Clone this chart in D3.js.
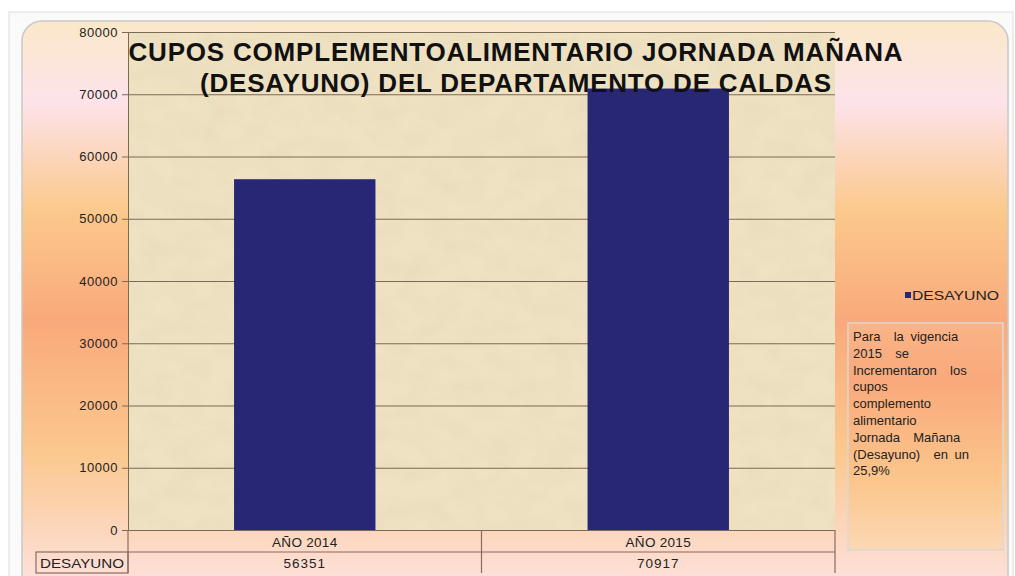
<!DOCTYPE html>
<html>
<head>
<meta charset="utf-8">
<script src="https://cdn.jsdelivr.net/npm/d3@7"></script>
<style>
  body { margin: 0; background: #fff; }
  svg { display: block; font-family: "Liberation Sans", Arial, sans-serif; }
</style>
</head>
<body>
<div id="chart"></div>
<script>
// data
var categories = ['AÑO 2014', 'AÑO 2015'];
var desayuno = [56351, 70917];
var seriesName = 'DESAYUNO';
var yTicks = [0, 10000, 20000, 30000, 40000, 50000, 60000, 70000, 80000];
var titleLines = ['CUPOS COMPLEMENTOALIMENTARIO JORNADA MAÑANA', '(DESAYUNO) DEL DEPARTAMENTO DE CALDAS'];
var noteLines = ['Para  la vigencia', '2015  se', 'Incrementaron  los', 'cupos', 'complemento',
  'alimentario', 'Jornada  Mañana', '(Desayuno)  en un', '25,9%'];

var W = 1015, H = 576;
var plot = {left: 128, right: 835, top: 32, bottom: 530};

var svg = d3.select('#chart').append('svg').attr('width', W).attr('height', H);
var defs = svg.append('defs');

// chart background gradient
var bg = defs.append('linearGradient').attr('id', 'bg').attr('x1', 0).attr('x2', 0).attr('y1', 0).attr('y2', 1);
[[0, '#fbe8c9'], [0.14, '#fde3ea'], [0.33, '#fbc98c'], [0.52, '#f9a97b'], [0.75, '#fbc88e'], [1, '#fde3e3']]
  .forEach(function(s) { bg.append('stop').attr('offset', s[0]).attr('stop-color', s[1]); });

var nb = defs.append('linearGradient').attr('id', 'noteBg').attr('x1', 0).attr('x2', 0).attr('y1', 0).attr('y2', 1);
[[0, '#f9b487'], [0.25, '#f9a97b'], [0.7, '#fbc68c'], [1, '#fcd8b4']]
  .forEach(function(s) { nb.append('stop').attr('offset', s[0]).attr('stop-color', s[1]); });

// parchment texture for the plot area
var tex = defs.append('filter').attr('id', 'parch').attr('x', 0).attr('y', 0).attr('width', 1).attr('height', 1);
tex.append('feTurbulence').attr('type', 'fractalNoise').attr('baseFrequency', '0.035 0.05')
  .attr('numOctaves', 4).attr('seed', 3).attr('result', 'n');
tex.append('feColorMatrix').attr('in', 'n').attr('type', 'matrix')
  .attr('values', '0 0 0 0 0.80  0 0 0 0 0.70  0 0 0 0 0.50  0 0 0 -1.1 0.75').attr('result', 'c');
tex.append('feComposite').attr('in', 'c').attr('in2', 'SourceGraphic').attr('operator', 'in');

// window frame
svg.append('rect').attr('x', 9).attr('y', 12).attr('width', 1004).attr('height', 570)
  .attr('fill', '#fafafa').attr('stroke', '#d9dde2');
svg.append('rect').attr('x', 22).attr('y', 21).attr('width', 986).attr('height', 575).attr('rx', 20)
  .attr('fill', 'url(#bg)').attr('stroke', '#c9c9c9').attr('stroke-width', 1.5);

// plot area
svg.append('rect').attr('x', plot.left).attr('y', plot.top)
  .attr('width', plot.right - plot.left).attr('height', plot.bottom - plot.top).attr('fill', '#efe2c2');
svg.append('rect').attr('x', plot.left).attr('y', plot.top)
  .attr('width', plot.right - plot.left).attr('height', plot.bottom - plot.top)
  .attr('fill', '#fff').attr('filter', 'url(#parch)');

var x = d3.scaleBand().domain(categories).range([plot.left, plot.right]).paddingInner(0.6).paddingOuter(0.3);
var y = d3.scaleLinear().domain([0, 80000]).range([plot.bottom, plot.top]);

// gridlines
svg.append('g').selectAll('line').data(yTicks).enter().append('line')
  .attr('x1', plot.left).attr('x2', plot.right)
  .attr('y1', function(d) { return y(d) + 0.5; }).attr('y2', function(d) { return y(d) + 0.5; })
  .attr('stroke', '#7d6a55').attr('stroke-width', 1.2);

// y axis
var yAxis = svg.append('g').attr('transform', 'translate(' + plot.left + ',0)')
  .call(d3.axisLeft(y).tickValues(yTicks).tickSize(6).tickPadding(4).tickFormat(d3.format('d')));
yAxis.select('.domain').attr('stroke', '#7d6a55');
yAxis.selectAll('line').attr('stroke', '#7d6a55');
yAxis.selectAll('text').attr('font-size', 13).attr('fill', '#222').attr('letter-spacing', '0.5px');

// bars
svg.append('g').selectAll('rect').data(desayuno).enter().append('rect')
  .attr('x', function(d, i) { return x(categories[i]); })
  .attr('y', function(d) { return y(d); })
  .attr('width', x.bandwidth())
  .attr('height', function(d) { return y(0) - y(d); })
  .attr('fill', '#272776');

// title
svg.append('g').selectAll('text').data(titleLines).enter().append('text')
  .attr('x', 516).attr('y', function(d, i) { return 61 + i * 31; })
  .attr('text-anchor', 'middle').attr('font-size', 26).attr('font-weight', 'bold').attr('fill', '#111')
  .attr('letter-spacing', '0.8px')
  .text(function(d) { return d; });

// data table
var rowH = [530, 552, 573];
var midX = (x(categories[0]) + x(categories[1]) + x.bandwidth()) / 2;
var tbl = svg.append('g').attr('stroke', '#8a6b60').attr('stroke-width', 1.2).attr('fill', 'none');
tbl.append('line').attr('x1', plot.left).attr('x2', plot.right).attr('y1', rowH[1]).attr('y2', rowH[1]);
tbl.append('line').attr('x1', plot.left).attr('x2', plot.left).attr('y1', rowH[0]).attr('y2', rowH[2]);
tbl.append('line').attr('x1', plot.right).attr('x2', plot.right).attr('y1', rowH[0]).attr('y2', rowH[2]);
tbl.append('line').attr('x1', midX).attr('x2', midX).attr('y1', rowH[0]).attr('y2', rowH[2]);
tbl.append('rect').attr('x', 36).attr('y', rowH[1]).attr('width', plot.left - 36).attr('height', rowH[2] - rowH[1]);

var cells = svg.append('g').attr('font-size', 13.5).attr('fill', '#222').attr('text-anchor', 'middle');
cells.selectAll('.cat').data(categories).enter().append('text')
  .attr('x', function(d) { return x(d) + x.bandwidth() / 2; }).attr('y', 547)
  .attr('letter-spacing', '0.3px').text(function(d) { return d; });
cells.selectAll('.val').data(desayuno).enter().append('text')
  .attr('x', function(d, i) { return x(categories[i]) + x.bandwidth() / 2; }).attr('y', 568)
  .attr('letter-spacing', '1px').text(function(d) { return d; });
cells.append('text').attr('x', 40).attr('y', 568).attr('text-anchor', 'start')
  .attr('textLength', 84).attr('lengthAdjust', 'spacingAndGlyphs').text(seriesName);

// legend
svg.append('rect').attr('x', 905).attr('y', 292).attr('width', 6).attr('height', 6).attr('fill', '#272776');
svg.append('text').attr('x', 912).attr('y', 300).attr('font-size', 13).attr('fill', '#222')
  .attr('textLength', 87).attr('lengthAdjust', 'spacingAndGlyphs').text(seriesName);

// note box
svg.append('rect').attr('x', 848).attr('y', 323).attr('width', 155).attr('height', 227)
  .attr('fill', 'url(#noteBg)').attr('stroke', '#dcd8d4').attr('stroke-width', 1.5);
svg.append('g').selectAll('text').data(noteLines).enter().append('text')
  .attr('x', 853).attr('y', function(d, i) { return 341 + i * 16.8; })
  .attr('font-size', 13).attr('fill', '#222').attr('word-spacing', '3px')
  .style('white-space', 'pre')
  .text(function(d) { return d; });
</script>
</body>
</html>
